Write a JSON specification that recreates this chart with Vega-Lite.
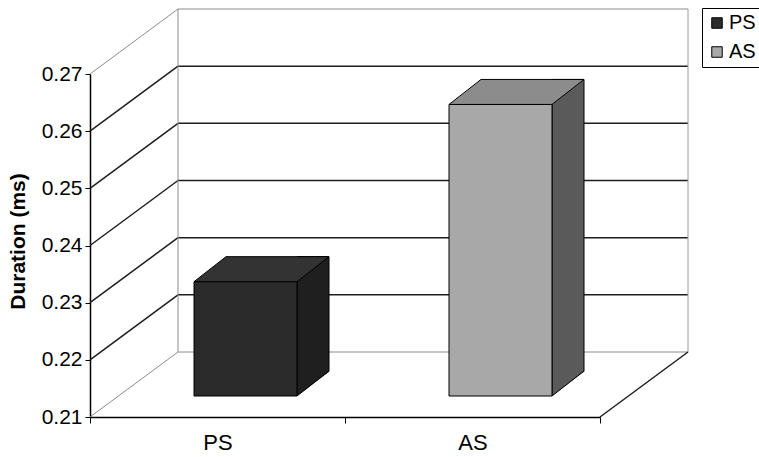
{
  "$schema": "https://vega.github.io/schema/vega-lite/v6.json",
  "width": 510,
  "height": 343,
  "autosize": {"type": "none"},
  "padding": {"left": 90, "top": 74, "right": 159, "bottom": 40},
  "background": "white",
  "config": {"view": {"stroke": null}, "font": "Liberation Sans"},
  "datasets": {
    "durations": [
      {"group": "PS", "duration": 0.23},
      {"group": "AS", "duration": 0.261}
    ],
    "gridLevels": [{"v": 0.22}, {"v": 0.23}, {"v": 0.24}, {"v": 0.25}, {"v": 0.26}],
    "wallEdges": [{"v": 0.21}, {"v": 0.27}]
  },
  "resolve": {"scale": {"fill": "independent"}, "axis": {"x": "independent", "y": "independent"}},
  "layer": [
    {
      "description": "back wall: top and bottom edges",
      "data": {"name": "wallEdges"},
      "mark": {"type": "rule", "color": "#8c8c8c", "strokeWidth": 1, "xOffset": 88, "x2Offset": 88, "yOffset": -65},
      "encoding": {
        "x": {"datum": "PS", "type": "nominal", "bandPosition": 0, "scale": {"type": "band", "domain": ["PS", "AS"], "paddingInner": 0, "paddingOuter": 0}, "axis": null},
        "x2": {"datum": "AS", "bandPosition": 1},
        "y": {"field": "v", "type": "quantitative", "scale": {"domain": [0.21, 0.27], "zero": false, "nice": false}, "axis": null}
      }
    },
    {
      "description": "back wall: gridlines",
      "data": {"name": "gridLevels"},
      "mark": {"type": "rule", "color": "#1e1e1e", "strokeWidth": 1.5, "xOffset": 88, "x2Offset": 88, "yOffset": -65},
      "encoding": {
        "x": {"datum": "PS", "type": "nominal", "bandPosition": 0, "scale": {"type": "band", "domain": ["PS", "AS"], "paddingInner": 0, "paddingOuter": 0}, "axis": null},
        "x2": {"datum": "AS", "bandPosition": 1},
        "y": {"field": "v", "type": "quantitative", "scale": {"domain": [0.21, 0.27], "zero": false, "nice": false}, "axis": null}
      }
    },
    {
      "description": "side wall: diagonal edges at the axis ends",
      "data": {"name": "wallEdges"},
      "mark": {"type": "rule", "color": "#8c8c8c", "strokeWidth": 1, "x2Offset": 88, "y2Offset": -65},
      "encoding": {
        "x": {"datum": "PS", "type": "nominal", "bandPosition": 0, "scale": {"type": "band", "domain": ["PS", "AS"], "paddingInner": 0, "paddingOuter": 0}, "axis": null},
        "x2": {"datum": "PS", "bandPosition": 0},
        "y": {"field": "v", "type": "quantitative", "scale": {"domain": [0.21, 0.27], "zero": false, "nice": false}, "axis": null},
        "y2": {"field": "v"}
      }
    },
    {
      "description": "side wall: diagonal gridlines",
      "data": {"name": "gridLevels"},
      "mark": {"type": "rule", "color": "#1e1e1e", "strokeWidth": 1.5, "x2Offset": 88, "y2Offset": -65},
      "encoding": {
        "x": {"datum": "PS", "type": "nominal", "bandPosition": 0, "scale": {"type": "band", "domain": ["PS", "AS"], "paddingInner": 0, "paddingOuter": 0}, "axis": null},
        "x2": {"datum": "PS", "bandPosition": 0},
        "y": {"field": "v", "type": "quantitative", "scale": {"domain": [0.21, 0.27], "zero": false, "nice": false}, "axis": null},
        "y2": {"field": "v"}
      }
    },
    {
      "description": "back wall: left vertical edge",
      "data": {"name": "wallEdges"},
      "mark": {"type": "rule", "color": "#8c8c8c", "strokeWidth": 1, "xOffset": 88, "yOffset": -65, "y2Offset": -65},
      "encoding": {
        "x": {"datum": "PS", "type": "nominal", "bandPosition": 0, "scale": {"type": "band", "domain": ["PS", "AS"], "paddingInner": 0, "paddingOuter": 0}, "axis": null},
        "y": {"aggregate": "min", "field": "v", "type": "quantitative", "scale": {"domain": [0.21, 0.27], "zero": false, "nice": false}, "axis": null},
        "y2": {"aggregate": "max", "field": "v"}
      }
    },
    {
      "description": "back wall: right vertical edge",
      "data": {"name": "wallEdges"},
      "mark": {"type": "rule", "color": "#9a9a9a", "strokeWidth": 1, "xOffset": 88, "yOffset": -65, "y2Offset": -65},
      "encoding": {
        "x": {"datum": "AS", "type": "nominal", "bandPosition": 1, "scale": {"type": "band", "domain": ["PS", "AS"], "paddingInner": 0, "paddingOuter": 0}, "axis": null},
        "y": {"aggregate": "min", "field": "v", "type": "quantitative", "scale": {"domain": [0.21, 0.27], "zero": false, "nice": false}, "axis": null},
        "y2": {"aggregate": "max", "field": "v"}
      }
    },
    {
      "description": "floor: right diagonal edge",
      "data": {"name": "wallEdges"},
      "transform": [{"filter": "datum.v < 0.215"}],
      "mark": {"type": "rule", "color": "#1e1e1e", "strokeWidth": 1.5, "x2Offset": 88, "y2Offset": -65},
      "encoding": {
        "x": {"datum": "AS", "type": "nominal", "bandPosition": 1, "scale": {"type": "band", "domain": ["PS", "AS"], "paddingInner": 0, "paddingOuter": 0}, "axis": null},
        "x2": {"datum": "AS", "bandPosition": 1},
        "y": {"field": "v", "type": "quantitative", "scale": {"domain": [0.21, 0.27], "zero": false, "nice": false}, "axis": null},
        "y2": {"field": "v"}
      }
    },
    {
      "description": "bar side faces",
      "data": {"name": "durations"},
      "mark": {"type": "bar", "width": 32, "xOffset": 95.5, "yOffset": -46, "y2Offset": -21, "stroke": "black", "strokeWidth": 1},
      "encoding": {
        "x": {"field": "group", "type": "nominal", "scale": {"type": "band", "domain": ["PS", "AS"], "paddingInner": 0, "paddingOuter": 0}, "axis": null},
        "y": {"field": "duration", "type": "quantitative", "scale": {"domain": [0.21, 0.27], "zero": false, "nice": false}, "axis": null},
        "y2": {"datum": 0.21},
        "fill": {"field": "group", "type": "nominal", "scale": {"domain": ["PS", "AS"], "range": ["#1f1f1f", "#5a5a5a"]}, "legend": null}
      }
    },
    {
      "description": "floor patch under each side face",
      "data": {"name": "durations"},
      "mark": {"type": "point", "shape": "M51.5,0L84.5,-25L86,-25L86,2L51.5,2Z", "size": 4, "filled": true, "color": "white", "strokeWidth": 0, "opacity": 1, "xOffset": 28, "yOffset": -21},
      "encoding": {
        "x": {"field": "group", "type": "nominal", "scale": {"type": "band", "domain": ["PS", "AS"], "paddingInner": 0, "paddingOuter": 0}, "axis": null},
        "y": {"datum": 0.21, "type": "quantitative", "scale": {"domain": [0.21, 0.27], "zero": false, "nice": false}, "axis": null}
      }
    },
    {
      "description": "bottom edge of each side face",
      "data": {"name": "durations"},
      "mark": {"type": "point", "shape": "M51.5,0L83.5,-25", "size": 4, "filled": false, "stroke": "black", "strokeWidth": 1, "opacity": 1, "xOffset": 28, "yOffset": -21},
      "encoding": {
        "x": {"field": "group", "type": "nominal", "scale": {"type": "band", "domain": ["PS", "AS"], "paddingInner": 0, "paddingOuter": 0}, "axis": null},
        "y": {"datum": 0.21, "type": "quantitative", "scale": {"domain": [0.21, 0.27], "zero": false, "nice": false}, "axis": null}
      }
    },
    {
      "description": "bar front faces, with the axes and legend",
      "data": {"name": "durations"},
      "mark": {"type": "bar", "width": 103, "xOffset": 28, "yOffset": -21, "y2Offset": -21, "stroke": "black", "strokeWidth": 1},
      "encoding": {
        "x": {
          "field": "group", "type": "nominal",
          "scale": {"type": "band", "domain": ["PS", "AS"], "paddingInner": 0, "paddingOuter": 0},
          "axis": {"title": null, "labelAngle": 0, "tickBand": "extent", "ticks": true, "tickSize": 6, "tickColor": "black", "domainColor": "black", "domainWidth": 1.5, "labelFontSize": 22, "labelColor": "black", "labelPadding": 9, "grid": false}
        },
        "y": {
          "field": "duration", "type": "quantitative",
          "scale": {"domain": [0.21, 0.27], "zero": false, "nice": false},
          "axis": {"values": [0.21, 0.22, 0.23, 0.24, 0.25, 0.26, 0.27], "format": ".2f", "grid": false, "tickSize": 5, "tickColor": "black", "domainColor": "black", "domainWidth": 1.5, "labelFontSize": 21, "labelColor": "black", "labelPadding": 3, "title": "Duration (ms)", "titleFontSize": 21, "titleFontWeight": "bold", "titleColor": "black", "titleX": -72, "titleY": 167, "titleAngle": -90, "titleAlign": "center", "titleBaseline": "middle"}
        },
        "y2": {"datum": 0.21},
        "fill": {
          "field": "group", "type": "nominal",
          "scale": {"domain": ["PS", "AS"], "range": ["#2b2b2b", "#a8a8a8"]},
          "legend": {"title": null, "orient": "none", "legendX": 612, "legendY": -66, "strokeColor": "black", "fillColor": "white", "padding": 5, "symbolType": "square", "symbolSize": 110, "symbolStrokeColor": "black", "symbolStrokeWidth": 1, "labelFontSize": 20, "labelColor": "black", "labelOffset": 2, "rowPadding": 9}
        }
      }
    },
    {
      "description": "bar top faces",
      "data": {"name": "durations"},
      "mark": {"type": "point", "shape": "M-51.5,0L51.5,0L83.5,-25L-19.5,-25Z", "size": 4, "filled": true, "stroke": "black", "strokeWidth": 1, "opacity": 1, "xOffset": 28, "yOffset": -21},
      "encoding": {
        "x": {"field": "group", "type": "nominal", "scale": {"type": "band", "domain": ["PS", "AS"], "paddingInner": 0, "paddingOuter": 0}, "axis": null},
        "y": {"field": "duration", "type": "quantitative", "scale": {"domain": [0.21, 0.27], "zero": false, "nice": false}, "axis": null},
        "fill": {"field": "group", "type": "nominal", "scale": {"domain": ["PS", "AS"], "range": ["#333333", "#8c8c8c"]}, "legend": null}
      }
    }
  ]
}
